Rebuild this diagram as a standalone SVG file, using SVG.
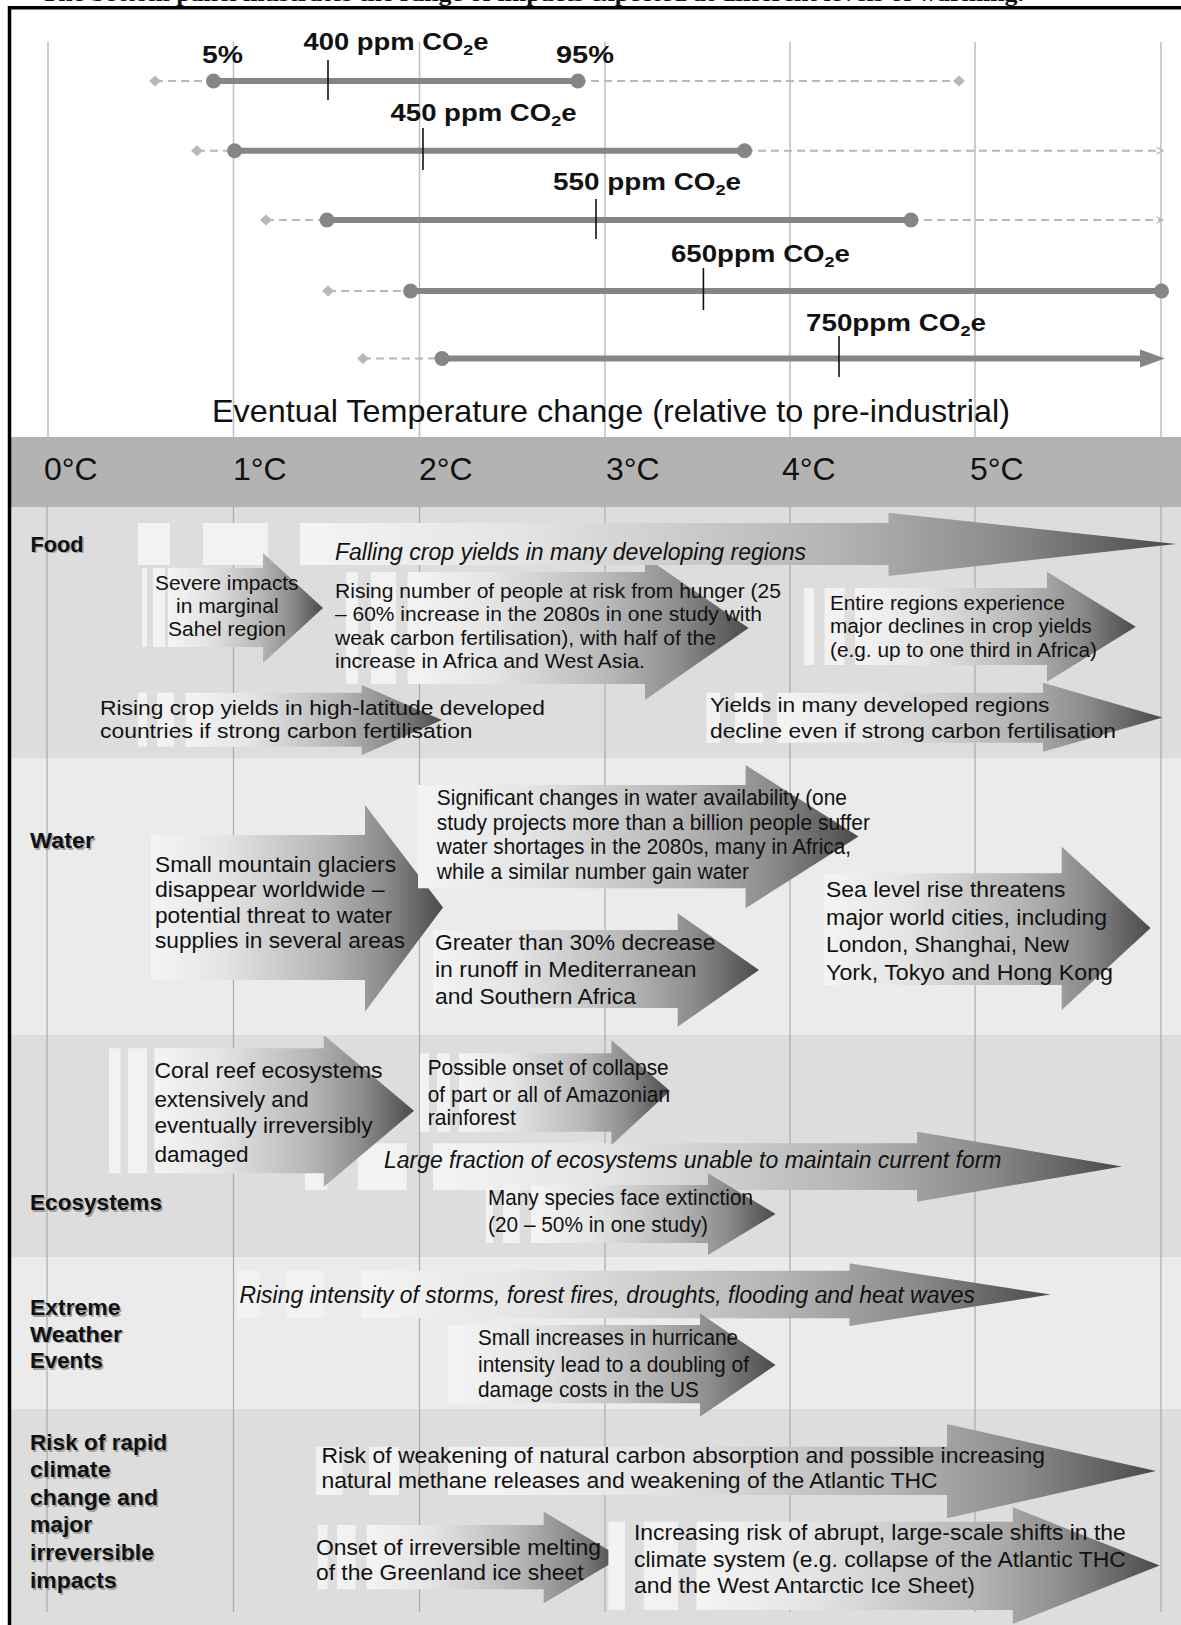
<svg xmlns="http://www.w3.org/2000/svg" width="1181" height="1625" viewBox="0 0 1181 1625">
<defs>
<linearGradient id="ag" x1="0" y1="0" x2="1" y2="0">
<stop offset="0" stop-color="#f4f4f4"/>
<stop offset="0.25" stop-color="#e4e4e4"/>
<stop offset="0.6" stop-color="#b6b6b6"/>
<stop offset="0.8" stop-color="#8c8c8c"/>
<stop offset="1" stop-color="#4a4a4a"/>
</linearGradient>
<marker id="dh" viewBox="0 0 10 10" refX="9" refY="5" markerWidth="8" markerHeight="8" orient="auto" markerUnits="userSpaceOnUse">
<path d="M1,1 L9,5 L1,9" fill="none" stroke="#b8b8b8" stroke-width="1.6"/>
</marker>
</defs>
<style>
text{font-family:"Liberation Sans",Arial,sans-serif;fill:#111}
.title{font-family:"Liberation Serif","Times New Roman",serif;font-weight:bold;font-size:20px}
.co{font-size:23px;font-weight:bold}
.sub{font-size:15px}
.deg{font-size:32px}
.ev{font-size:32px}
.lab{font-size:22px;font-weight:bold}
.sh{fill:#a0a0a0}
.bf{font-size:20.5px}
.bw{font-size:22.5px}
.it{font-size:23px;font-style:italic}
.grid{stroke:#bdbdbd;stroke-width:1.5}
.gridb{stroke:#aaaaaa;stroke-width:1.2}
.solid{stroke:#858585;stroke-width:6}
.dash{stroke:#b8b8b8;stroke-width:2;stroke-dasharray:8 5;fill:none}
.dot{fill:#858585}
.dia{fill:#b8b8b8}
.tick{stroke:#111;stroke-width:1.6}
.arr{fill:url(#ag)}
.st{fill:#f2f2f2}
.dark{fill:#dddddd}
.light{fill:#ebebeb}
</style>
<rect width="1181" height="1625" fill="#ffffff"/>
<text class="title" x="41" y="0.8" textLength="983" lengthAdjust="spacingAndGlyphs">The bottom panel illustrates the range of impacts expected at different levels of warming.</text>

<g id="backgrounds">
<rect x="11" y="437" width="1170" height="70" fill="#b3b3b3"/>
<rect class="dark" x="11" y="507" width="1170" height="251"/>
<rect class="light" x="11" y="758" width="1170" height="277"/>
<rect class="dark" x="11" y="1035" width="1170" height="222"/>
<rect class="light" x="11" y="1257" width="1170" height="152"/>
<rect class="dark" x="11" y="1409" width="1170" height="216"/>
</g>

<g id="gridlines">
<g class="grid">
<line x1="48" y1="42" x2="48" y2="437"/>
<line x1="233.5" y1="42" x2="233.5" y2="437"/>
<line x1="419.5" y1="42" x2="419.5" y2="437"/>
<line x1="605" y1="42" x2="605" y2="437"/>
<line x1="790" y1="42" x2="790" y2="437"/>
<line x1="975" y1="42" x2="975" y2="437"/>
<line x1="1161" y1="42" x2="1161" y2="437"/>
</g>
<g class="gridb">
<line x1="47" y1="507" x2="47" y2="1612"/>
<line x1="233.5" y1="507" x2="233.5" y2="1612"/>
<line x1="419.5" y1="507" x2="419.5" y2="1612"/>
<line x1="605" y1="507" x2="605" y2="1612"/>
<line x1="790" y1="507" x2="790" y2="1612"/>
<line x1="975" y1="507" x2="975" y2="1612"/>
<line x1="1161" y1="507" x2="1161" y2="1612"/>
</g>
</g>

<g id="frame">
<line x1="9.5" y1="6" x2="9.5" y2="1625" stroke="#000" stroke-width="3.5"/>
<line x1="8" y1="7.8" x2="1181" y2="7.8" stroke="#000" stroke-width="3.5"/>
</g>

<g id="connectors">
<g id="row-400">
<line class="dash" x1="155" y1="81" x2="213" y2="81"/>
<line class="dash" x1="578" y1="81" x2="959" y2="81"/>
<line class="solid" x1="213.5" y1="81" x2="578" y2="81"/>
<polygon class="dia" points="149,81 155,75.5 161,81 155,86.5"/>
<polygon class="dia" points="953,81 959,75.5 965,81 959,86.5"/>
<circle class="dot" cx="213.5" cy="81" r="7.5"/>
<circle class="dot" cx="578" cy="81" r="7.5"/>
<line class="tick" x1="328" y1="60" x2="328" y2="100"/>
</g>
<g id="row-450">
<line class="dash" x1="197" y1="150.7" x2="234" y2="150.7"/>
<line class="dash" x1="745" y1="150.7" x2="1163" y2="150.7" marker-end="url(#dh)"/>
<line class="solid" x1="234.6" y1="150.7" x2="744.6" y2="150.7"/>
<polygon class="dia" points="191,150.7 197,145.2 203,150.7 197,156.2"/>
<circle class="dot" cx="234.6" cy="150.7" r="7.5"/>
<circle class="dot" cx="744.6" cy="150.7" r="7.5"/>
<line class="tick" x1="423" y1="128" x2="423" y2="170"/>
</g>
<g id="row-550">
<line class="dash" x1="266" y1="220" x2="327" y2="220"/>
<line class="dash" x1="911" y1="220" x2="1163" y2="220" marker-end="url(#dh)"/>
<line class="solid" x1="327" y1="220" x2="911" y2="220"/>
<polygon class="dia" points="260,220 266,214.5 272,220 266,225.5"/>
<circle class="dot" cx="327" cy="220" r="7.5"/>
<circle class="dot" cx="911" cy="220" r="7.5"/>
<line class="tick" x1="596" y1="199" x2="596" y2="239"/>
</g>
<g id="row-650">
<line class="dash" x1="328" y1="291" x2="410" y2="291"/>
<line class="solid" x1="410.6" y1="291" x2="1161.5" y2="291"/>
<polygon class="dia" points="322,291 328,285.5 334,291 328,296.5"/>
<circle class="dot" cx="410.6" cy="291" r="7.5"/>
<circle class="dot" cx="1161.5" cy="291" r="7.5"/>
<line class="tick" x1="703.4" y1="268" x2="703.4" y2="310"/>
</g>
<g id="row-750">
<line class="dash" x1="363" y1="358.5" x2="442" y2="358.5"/>
<line class="solid" x1="442" y1="358.5" x2="1146" y2="358.5"/>
<polygon class="dot" points="1140,349.5 1165,358.5 1140,367.5"/>
<polygon class="dia" points="357,358.5 363,353 369,358.5 363,364"/>
<circle class="dot" cx="442" cy="358.5" r="7.5"/>
<line class="tick" x1="839" y1="336" x2="839" y2="377"/>
</g>
</g>

<g id="top-labels">
<text class="co" x="202" y="63" textLength="41" lengthAdjust="spacingAndGlyphs">5%</text>
<text class="co" x="556" y="63" textLength="58" lengthAdjust="spacingAndGlyphs">95%</text>
<text class="co" x="303.5" y="50" textLength="185" lengthAdjust="spacingAndGlyphs">400 ppm CO<tspan class="sub" dy="5">2</tspan><tspan dy="-5">e</tspan></text>
<text class="co" x="390.5" y="120.5" textLength="186" lengthAdjust="spacingAndGlyphs">450 ppm CO<tspan class="sub" dy="5">2</tspan><tspan dy="-5">e</tspan></text>
<text class="co" x="553" y="190" textLength="188" lengthAdjust="spacingAndGlyphs">550 ppm CO<tspan class="sub" dy="5">2</tspan><tspan dy="-5">e</tspan></text>
<text class="co" x="671" y="261.5" textLength="179" lengthAdjust="spacingAndGlyphs">650ppm CO<tspan class="sub" dy="5">2</tspan><tspan dy="-5">e</tspan></text>
<text class="co" x="806" y="330.5" textLength="180" lengthAdjust="spacingAndGlyphs">750ppm CO<tspan class="sub" dy="5">2</tspan><tspan dy="-5">e</tspan></text>
<text class="ev" x="212" y="421.7" textLength="798" lengthAdjust="spacingAndGlyphs">Eventual Temperature change (relative to pre-industrial)</text>
</g>

<g id="axis-labels">
<text class="deg" x="44" y="480">0°C</text>
<text class="deg" x="233" y="480">1°C</text>
<text class="deg" x="419" y="480">2°C</text>
<text class="deg" x="606" y="480">3°C</text>
<text class="deg" x="782" y="480">4°C</text>
<text class="deg" x="970" y="480">5°C</text>
</g>

<g id="category-labels">
<g transform="translate(1.5,1.5)">
<text class="lab sh" x="30.5" y="551.7" textLength="53" lengthAdjust="spacingAndGlyphs">Food</text>
<text class="lab sh" x="30" y="848.3" textLength="64" lengthAdjust="spacingAndGlyphs">Water</text>
<text class="lab sh" x="30" y="1210" textLength="132" lengthAdjust="spacingAndGlyphs">Ecosystems</text>
<text class="lab sh" x="30" y="1315" textLength="90.5" lengthAdjust="spacingAndGlyphs">Extreme</text>
<text class="lab sh" x="30" y="1341.7" textLength="92" lengthAdjust="spacingAndGlyphs">Weather</text>
<text class="lab sh" x="30" y="1368.3" textLength="73" lengthAdjust="spacingAndGlyphs">Events</text>
<text class="lab sh" x="30" y="1450" textLength="137" lengthAdjust="spacingAndGlyphs">Risk of rapid</text>
<text class="lab sh" x="30" y="1477.3" textLength="80.7" lengthAdjust="spacingAndGlyphs">climate</text>
<text class="lab sh" x="30" y="1505" textLength="128" lengthAdjust="spacingAndGlyphs">change and</text>
<text class="lab sh" x="30" y="1532.3" textLength="62" lengthAdjust="spacingAndGlyphs">major</text>
<text class="lab sh" x="30" y="1560" textLength="124" lengthAdjust="spacingAndGlyphs">irreversible</text>
<text class="lab sh" x="30" y="1588.3" textLength="86.7" lengthAdjust="spacingAndGlyphs">impacts</text>
</g>
<text class="lab" x="30.5" y="551.7" textLength="53" lengthAdjust="spacingAndGlyphs">Food</text>
<text class="lab" x="30" y="848.3" textLength="64" lengthAdjust="spacingAndGlyphs">Water</text>
<text class="lab" x="30" y="1210" textLength="132" lengthAdjust="spacingAndGlyphs">Ecosystems</text>
<text class="lab" x="30" y="1315" textLength="90.5" lengthAdjust="spacingAndGlyphs">Extreme</text>
<text class="lab" x="30" y="1341.7" textLength="92" lengthAdjust="spacingAndGlyphs">Weather</text>
<text class="lab" x="30" y="1368.3" textLength="73" lengthAdjust="spacingAndGlyphs">Events</text>
<text class="lab" x="30" y="1450" textLength="137" lengthAdjust="spacingAndGlyphs">Risk of rapid</text>
<text class="lab" x="30" y="1477.3" textLength="80.7" lengthAdjust="spacingAndGlyphs">climate</text>
<text class="lab" x="30" y="1505" textLength="128" lengthAdjust="spacingAndGlyphs">change and</text>
<text class="lab" x="30" y="1532.3" textLength="62" lengthAdjust="spacingAndGlyphs">major</text>
<text class="lab" x="30" y="1560" textLength="124" lengthAdjust="spacingAndGlyphs">irreversible</text>
<text class="lab" x="30" y="1588.3" textLength="86.7" lengthAdjust="spacingAndGlyphs">impacts</text>
</g>

<!-- FOOD -->
<g id="food-hunger">
<rect class="st" x="346" y="572" width="12" height="112"/>
<rect class="st" x="371" y="572" width="25" height="112"/>
<polygon class="arr" points="407.6,572 645,572 645,556.7 748.6,628 645,700 645,684 407.6,684"/>
<text class="bf" x="335" y="597.5" textLength="446" lengthAdjust="spacingAndGlyphs">Rising number of people at risk from hunger (25</text>
<text class="bf" x="335" y="621" textLength="427" lengthAdjust="spacingAndGlyphs">– 60% increase in the 2080s in one study with</text>
<text class="bf" x="335" y="644.5" textLength="381" lengthAdjust="spacingAndGlyphs">weak carbon fertilisation), with half of the</text>
<text class="bf" x="335" y="668" textLength="310" lengthAdjust="spacingAndGlyphs">increase in Africa and West Asia.</text>
</g>
<g id="food-falling">
<rect class="st" x="138" y="523" width="32" height="42"/>
<rect class="st" x="203" y="523" width="65" height="42"/>
<polygon class="arr" points="300,523 888.5,523 888.5,512.7 1176,544 888.5,576 888.5,565 300,565"/>
<text class="it" x="335" y="559.5" textLength="471" lengthAdjust="spacingAndGlyphs">Falling crop yields in many developing regions</text>
</g>
<g id="food-sahel">
<rect class="st" x="142" y="568" width="5" height="79"/>
<rect class="st" x="153" y="568" width="12" height="79"/>
<polygon class="arr" points="168,568 263,568 263,553 323,608 263,663 263,647 168,647"/>
<text class="bf" x="155" y="590" textLength="143.5" lengthAdjust="spacingAndGlyphs">Severe impacts</text>
<text class="bf" x="176" y="613" textLength="102.6" lengthAdjust="spacingAndGlyphs">in marginal</text>
<text class="bf" x="168" y="635.5" textLength="118" lengthAdjust="spacingAndGlyphs">Sahel region</text>
</g>
<g id="food-entire">
<rect class="st" x="804" y="588" width="10" height="77"/>
<rect class="st" x="824.5" y="588" width="20" height="77"/>
<polygon class="arr" points="855,588 1047,588 1047,571.7 1135.8,626.7 1047,681.7 1047,665 855,665"/>
<text class="bf" x="830" y="610" textLength="235" lengthAdjust="spacingAndGlyphs">Entire regions experience</text>
<text class="bf" x="830" y="633.3" textLength="261.7" lengthAdjust="spacingAndGlyphs">major declines in crop yields</text>
<text class="bf" x="830" y="656.7" textLength="267" lengthAdjust="spacingAndGlyphs">(e.g. up to one third in Africa)</text>
</g>
<g id="food-rising">
<rect class="st" x="138" y="692.7" width="9" height="54"/>
<rect class="st" x="157" y="692.7" width="17" height="54"/>
<polygon class="arr" points="185.6,692.7 361.7,692.7 361.7,685 442,720 361.7,755 361.7,746.7 185.6,746.7"/>
<text class="bf" x="100" y="715" textLength="445" lengthAdjust="spacingAndGlyphs">Rising crop yields in high-latitude developed</text>
<text class="bf" x="100" y="738.3" textLength="372.6" lengthAdjust="spacingAndGlyphs">countries if strong carbon fertilisation</text>
</g>
<g id="food-yields">
<rect class="st" x="706.5" y="692.7" width="13.5" height="50"/>
<rect class="st" x="735" y="692.7" width="28" height="50"/>
<polygon class="arr" points="777,692.7 1043,692.7 1043,682.7 1162.6,717.5 1043,751.7 1043,742.7 777,742.7"/>
<text class="bf" x="710" y="711.7" textLength="339.5" lengthAdjust="spacingAndGlyphs">Yields in many developed regions</text>
<text class="bf" x="710" y="738.3" textLength="406" lengthAdjust="spacingAndGlyphs">decline even if strong carbon fertilisation</text>
</g>

<!-- WATER -->
<g id="water-glaciers">
<polygon class="arr" points="151,835 365,835 365,805 443,907.5 365,1011.7 365,980 151,980"/>
<text class="bw" x="155" y="871.5" textLength="241" lengthAdjust="spacingAndGlyphs">Small mountain glaciers</text>
<text class="bw" x="155" y="897" textLength="229.6" lengthAdjust="spacingAndGlyphs">disappear worldwide –</text>
<text class="bw" x="155" y="922.5" textLength="237.2" lengthAdjust="spacingAndGlyphs">potential threat to water</text>
<text class="bw" x="155" y="948" textLength="250" lengthAdjust="spacingAndGlyphs">supplies in several areas</text>
</g>
<g id="water-availability">
<polygon class="arr" points="418,785 745.6,785 745.6,765 858.5,836.5 745.6,908.3 745.6,888.3 418,888.3"/>
<text class="bw" x="436.8" y="805" textLength="410.2" lengthAdjust="spacingAndGlyphs">Significant changes in water availability (one</text>
<text class="bw" x="436.8" y="829.5" textLength="433.2" lengthAdjust="spacingAndGlyphs">study projects more than a billion people suffer</text>
<text class="bw" x="436.8" y="854" textLength="414.2" lengthAdjust="spacingAndGlyphs">water shortages in the 2080s, many in Africa,</text>
<text class="bw" x="436.8" y="878.5" textLength="312.2" lengthAdjust="spacingAndGlyphs">while a similar number gain water</text>
</g>
<g id="water-runoff">
<polygon class="arr" points="433,930 677.7,930 677.7,913.3 759,970 677.7,1026.7 677.7,1008 433,1008"/>
<text class="bw" x="435" y="950" textLength="280.4" lengthAdjust="spacingAndGlyphs">Greater than 30% decrease</text>
<text class="bw" x="435" y="977" textLength="261.5" lengthAdjust="spacingAndGlyphs">in runoff in Mediterranean</text>
<text class="bw" x="435" y="1004" textLength="201" lengthAdjust="spacingAndGlyphs">and Southern Africa</text>
</g>
<g id="water-sealevel">
<polygon class="arr" points="824.5,873.3 1061.7,873.3 1061.7,846.7 1150.6,928 1061.7,1010 1061.7,985 824.5,985"/>
<text class="bw" x="826" y="897" textLength="239.5" lengthAdjust="spacingAndGlyphs">Sea level rise threatens</text>
<text class="bw" x="826" y="924.5" textLength="281" lengthAdjust="spacingAndGlyphs">major world cities, including</text>
<text class="bw" x="826" y="952" textLength="243" lengthAdjust="spacingAndGlyphs">London, Shanghai, New</text>
<text class="bw" x="826" y="979.5" textLength="287" lengthAdjust="spacingAndGlyphs">York, Tokyo and Hong Kong</text>
</g>

<!-- ECOSYSTEMS -->
<g id="eco-fraction">
<rect class="st" x="305" y="1143.3" width="22.5" height="46.7"/>
<rect class="st" x="357.7" y="1143.3" width="49" height="46.7"/>
<polygon class="arr" points="433,1143.3 917,1143.3 917,1131.7 1122,1166.5 917,1201.7 917,1190 433,1190"/>
<text class="it" x="384" y="1168.3" textLength="617.5" lengthAdjust="spacingAndGlyphs">Large fraction of ecosystems unable to maintain current form</text>
</g>
<g id="eco-coral">
<rect class="st" x="109" y="1048.3" width="11.5" height="125"/>
<rect class="st" x="128" y="1048.3" width="19" height="125"/>
<polygon class="arr" points="154.4,1048.3 323.8,1048.3 323.8,1035 414,1110.8 323.8,1186.7 323.8,1173.3 154.4,1173.3"/>
<text class="bw" x="154.4" y="1078.3" textLength="228.1" lengthAdjust="spacingAndGlyphs">Coral reef ecosystems</text>
<text class="bw" x="154.4" y="1106.7" textLength="154.3" lengthAdjust="spacingAndGlyphs">extensively and</text>
<text class="bw" x="154.4" y="1133.3" textLength="218.3" lengthAdjust="spacingAndGlyphs">eventually irreversibly</text>
<text class="bw" x="154.4" y="1161.7" textLength="94.1" lengthAdjust="spacingAndGlyphs">damaged</text>
</g>
<g id="eco-amazon">
<rect class="st" x="420" y="1053.3" width="9" height="78.4"/>
<rect class="st" x="437" y="1053.3" width="13" height="78.4"/>
<polygon class="arr" points="459,1053.3 611.4,1053.3 611.4,1040 670,1091 611.4,1145 611.4,1131.7 459,1131.7"/>
<text class="bw" x="427.7" y="1075" textLength="241" lengthAdjust="spacingAndGlyphs">Possible onset of collapse</text>
<text class="bw" x="427.7" y="1101.7" textLength="242.3" lengthAdjust="spacingAndGlyphs">of part or all of Amazonian</text>
<text class="bw" x="427.7" y="1125" textLength="88.1" lengthAdjust="spacingAndGlyphs">rainforest</text>
</g>
<g id="eco-species">
<rect class="st" x="485.7" y="1185" width="7.3" height="58"/>
<rect class="st" x="503" y="1185" width="16.6" height="58"/>
<polygon class="arr" points="531,1185 708,1185 708,1173.3 775.6,1214 708,1255 708,1243 531,1243"/>
<text class="bw" x="488" y="1205" textLength="265" lengthAdjust="spacingAndGlyphs">Many species face extinction</text>
<text class="bw" x="488" y="1231.7" textLength="220" lengthAdjust="spacingAndGlyphs">(20 – 50% in one study)</text>
</g>

<!-- EXTREME WEATHER -->
<g id="weather-storms">
<rect class="st" x="237" y="1270.7" width="23" height="47.6"/>
<rect class="st" x="286" y="1270.7" width="38" height="47.6"/>
<polygon class="arr" points="361.4,1270.7 849.4,1270.7 849.4,1263.3 1050.5,1294.6 849.4,1326 849.4,1318.3 361.4,1318.3"/>
<text class="it" x="239.5" y="1303.3" textLength="735.5" lengthAdjust="spacingAndGlyphs">Rising intensity of storms, forest fires, droughts, flooding and heat waves</text>
</g>
<g id="weather-hurricane">
<rect class="st" x="448" y="1325" width="7.6" height="78.3"/>
<polygon class="arr" points="455.6,1325 700,1325 700,1313.3 775.6,1365 700,1416.7 700,1403.3 455.6,1403.3"/>
<text class="bw" x="478" y="1345" textLength="260" lengthAdjust="spacingAndGlyphs">Small increases in hurricane</text>
<text class="bw" x="478" y="1371.7" textLength="271" lengthAdjust="spacingAndGlyphs">intensity lead to a doubling of</text>
<text class="bw" x="478" y="1396.7" textLength="220.8" lengthAdjust="spacingAndGlyphs">damage costs in the US</text>
</g>

<!-- RISK -->
<g id="risk-weakening">
<rect class="st" x="316" y="1446.7" width="26.6" height="48.3"/>
<rect class="st" x="369" y="1446.7" width="30" height="48.3"/>
<rect class="st" x="448" y="1446.7" width="34" height="48.3"/>
<polygon class="arr" points="482,1446.7 947,1446.7 947,1424 1156,1471 947,1518.3 947,1495 482,1495"/>
<text class="bw" x="321.5" y="1463.3" textLength="723.5" lengthAdjust="spacingAndGlyphs">Risk of weakening of natural carbon absorption and possible increasing</text>
<text class="bw" x="321.5" y="1488.3" textLength="616" lengthAdjust="spacingAndGlyphs">natural methane releases and weakening of the Atlantic THC</text>
</g>
<g id="risk-greenland">
<rect class="st" x="317.8" y="1525" width="9.7" height="64.3"/>
<rect class="st" x="337" y="1525" width="18.4" height="64.3"/>
<polygon class="arr" points="366.7,1525 543.7,1525 543.7,1511.7 621,1557.5 543.7,1603.3 543.7,1589.3 366.7,1589.3"/>
<text class="bw" x="316" y="1555" textLength="285" lengthAdjust="spacingAndGlyphs">Onset of irreversible melting</text>
<text class="bw" x="316" y="1580" textLength="267.6" lengthAdjust="spacingAndGlyphs">of the Greenland ice sheet</text>
</g>
<g id="risk-abrupt">
<rect class="st" x="608.4" y="1521.7" width="16.6" height="88.3"/>
<rect class="st" x="643.8" y="1521.7" width="34" height="88.3"/>
<polygon class="arr" points="696.5,1521.7 1012.8,1521.7 1012.8,1507.3 1159.6,1565.5 1012.8,1624 1012.8,1610 696.5,1610"/>
<text class="bw" x="634" y="1540" textLength="491.8" lengthAdjust="spacingAndGlyphs">Increasing risk of abrupt, large-scale shifts in the</text>
<text class="bw" x="634" y="1566.7" textLength="491.8" lengthAdjust="spacingAndGlyphs">climate system (e.g. collapse of the Atlantic THC</text>
<text class="bw" x="634" y="1593.3" textLength="341" lengthAdjust="spacingAndGlyphs">and the West Antarctic Ice Sheet)</text>
</g>
</svg>
